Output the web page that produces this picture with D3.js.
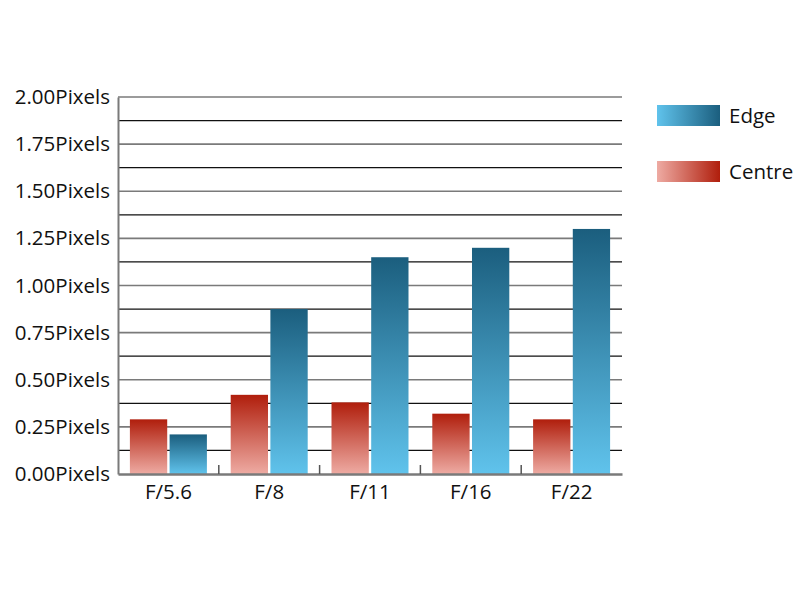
<!DOCTYPE html>
<html><head><meta charset="utf-8">
<script src="https://cdn.jsdelivr.net/npm/d3@7"></script>
<style>body{margin:0;background:#fff}</style>
</head><body>
<svg id="c" width="800" height="600"></svg>
<script>
const categories = ["F/5.6","F/8","F/11","F/16","F/22"];
const seriesNames = ["Centre","Edge"];
const centreValues = [0.29,0.42,0.38,0.32,0.29];
const edgeValues = [0.21,0.875,1.15,1.20,1.30];
const yTicks = [0,0.25,0.5,0.75,1,1.25,1.5,1.75,2];
const yMinorTicks = [0.125,0.375,0.625,0.875,1.125,1.375,1.625,1.875];

const svg = d3.select("#c");
const font = "'Open Sans', 'Noto Sans', sans-serif";
const fs = 20.5;
const L=118,R=622,T=97,B=474;
const x = d3.scaleBand().domain(categories).range([L,R]);
const xs = d3.scaleBand().domain(seriesNames).range([0,77]).paddingInner(0.06);
const y = d3.scaleLinear().domain([0,2]).range([B,T]);

const defs = svg.append("defs");
function grad(id, c1, c2, vertical){
  const g = defs.append("linearGradient").attr("id",id)
    .attr("x1",0).attr("y1",0).attr("x2",vertical?0:1).attr("y2",vertical?1:0);
  g.append("stop").attr("offset","0%").attr("stop-color",c1);
  g.append("stop").attr("offset","100%").attr("stop-color",c2);
}
grad("gC","#b01e0c","#eeaba3",true);
grad("gE","#1b5e7e","#60c3ec",true);
grad("lC","#eeaba3","#b01e0c",false);
grad("lE","#60c3ec","#1b5e7e",false);
const fills = {Centre:"url(#gC)",Edge:"url(#gE)"};
const legFills = {Centre:"url(#lC)",Edge:"url(#lE)"};

// minor grid
svg.append("g").selectAll("line").data(yMinorTicks).join("line")
  .attr("x1",L).attr("x2",R).attr("y1",d=>y(d)).attr("y2",d=>y(d))
  .attr("stroke","#111").attr("stroke-width",1.2);
// major grid
svg.append("g").selectAll("line").data(yTicks.filter(d=>d>0)).join("line")
  .attr("x1",L).attr("x2",R).attr("y1",d=>y(d)).attr("y2",d=>y(d))
  .attr("stroke","#7a7a7a").attr("stroke-width",1.6);

// y axis labels
const yAxis = d3.axisLeft(y).tickValues(yTicks).tickSize(0).tickPadding(8)
  .tickFormat(d=>d3.format(".2f")(d)+"Pixels");
const gy = svg.append("g").attr("transform",`translate(${L},0)`).call(yAxis);
gy.select(".domain").attr("stroke","#7a7a7a").attr("stroke-width",2);
gy.selectAll("text").attr("font-family",font).attr("font-size",fs).attr("fill","#111");

// bars
const data = categories.map((c,i)=>({cat:c,Centre:centreValues[i],Edge:edgeValues[i]}));
const groups = svg.append("g").selectAll("g").data(data).join("g")
  .attr("transform",d=>`translate(${x(d.cat)+(x.bandwidth()-77)/2},0)`);
groups.selectAll("rect").data(d=>seriesNames.map(s=>({s,v:d[s]}))).join("rect")
  .attr("x",d=>xs(d.s)).attr("width",xs.bandwidth())
  .attr("y",d=>y(d.v)).attr("height",d=>B-y(d.v))
  .attr("fill",d=>fills[d.s]);

// x axis
const xAxis = d3.axisBottom(x).tickSize(0).tickPadding(10);
const gx = svg.append("g").attr("transform",`translate(0,${B})`).call(xAxis);
gx.select(".domain").attr("stroke","#7a7a7a").attr("stroke-width",2.5);
gx.selectAll("text").attr("font-family",font).attr("font-size",fs).attr("fill","#111");
// small upward ticks at band boundaries
svg.append("g").selectAll("line").data(categories.slice(1)).join("line")
  .attr("x1",d=>x(d)).attr("x2",d=>x(d)).attr("y1",B).attr("y2",B-9)
  .attr("stroke","#555").attr("stroke-width",1.5);

// legend
const legendOrder = ["Edge","Centre"];
const lg = svg.append("g").selectAll("g").data(legendOrder).join("g")
  .attr("transform",(d,i)=>`translate(657,${105+i*56})`);
lg.append("rect").attr("width",63).attr("height",21).attr("fill",d=>legFills[d]);
lg.append("text").attr("x",72).attr("y",11).attr("dy","0.35em")
  .attr("font-family",font).attr("font-size",fs).attr("fill","#111").text(d=>d);
</script>
</body></html>
